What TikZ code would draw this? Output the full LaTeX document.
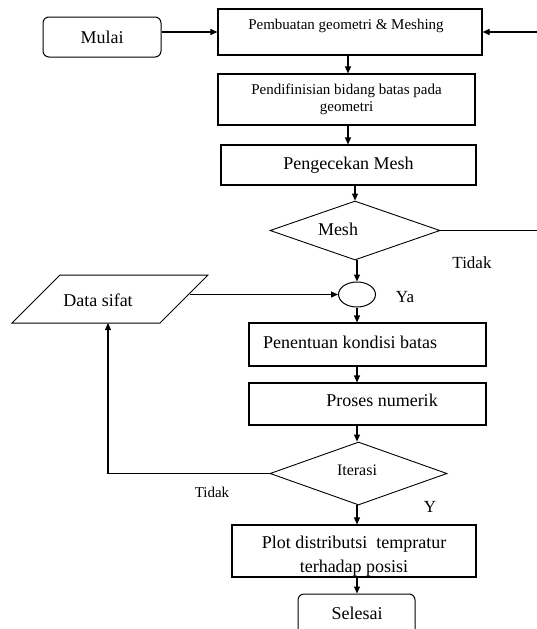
\documentclass[tikz,border=0pt]{standalone}
\usepackage{fontspec}
\setmainfont{Liberation Serif}
\usetikzlibrary{shapes.geometric,arrows.meta}
\begin{document}
\begin{tikzpicture}[x=1pt,y=-1pt,
  box/.style={draw,line width=1.1pt,rectangle,inner sep=0pt},
  term/.style={draw,line width=1pt,rounded corners=6pt,inner sep=0pt},
  dec/.style={draw,line width=0.9pt,diamond,inner sep=0pt},
  txt/.style={inner sep=0pt,font=\fontsize{18}{22}\selectfont},
  smalltxt/.style={inner sep=0pt,font=\fontsize{15}{17}\selectfont},
  arr/.style={line width=1.1pt,-{Triangle[length=7pt,width=6pt]}},
  ln/.style={line width=1.1pt}]
\useasboundingbox (0,0) rectangle (537,629);
\clip (0,0) rectangle (537,629);
% columns
\coordinate (colA) at (348,0);
\coordinate (colB) at (357,0);
% nodes
\node[term,minimum width=118pt,minimum height=40pt,txt] (mulai) at (102,37) {Mulai};
\node[box,minimum width=264pt,minimum height=46pt] (pemb) at (350,32) {};
\node[smalltxt] (pembt) at (346,26) {Pembuatan geometri \& Meshing};
\node[box,minimum width=257pt,minimum height=51pt,smalltxt,align=center] (pend) at (346.5,99.5) {Pendifinisian bidang batas pada\\geometri};
\node[box,minimum width=255pt,minimum height=40pt,txt] (peng) at (348.5,165) {Pengecekan Mesh};
\node[dec,minimum width=170pt,minimum height=59pt] (mesh) at (355,230.5) {};
\node[txt] (mesht) at (338,229) {Mesh};
\node[draw,ellipse,line width=1pt,minimum width=37pt,minimum height=25pt,inner sep=0pt] (circ) at (357,294.5) {};
\draw[line width=1pt] (60,275) -- (208,275) -- (160,323) -- (12,323) -- cycle;
\node[txt] (data) at (98,300) {Data sifat};
\coordinate (dataR) at (189.5,294.5);
\coordinate (dataB) at (108,323);
\node[box,minimum width=237pt,minimum height=43pt] (pent) at (367.5,344.5) {};
\node[txt] (pentt) at (350,342) {Penentuan kondisi batas};
\node[box,minimum width=237pt,minimum height=42pt] (proc) at (367.5,404) {};
\node[txt] (proct) at (382,400) {Proses numerik};
\node[dec,minimum width=177pt,minimum height=63pt] (iter) at (358.5,473.5) {};
\node[inner sep=0pt,font=\fontsize{16}{18}\selectfont] (itert) at (357,470) {Iterasi};
\node[box,minimum width=244pt,minimum height=52pt] (plot) at (354,551) {};
\node[txt,align=center,font=\fontsize{18}{24}\selectfont] (plott) at (354,556) {Plot distributsi\ \ tempratur\\terhadap posisi};
\node[term,minimum width=117pt,minimum height=46pt] (sel) at (356.5,617) {};
\node[txt] (selt) at (357,613) {Selesai};
% labels
\node[inner sep=0pt,font=\fontsize{17}{20}\selectfont] (tidak1) at (472,263) {Tidak};
\node[inner sep=0pt,font=\fontsize{17}{20}\selectfont] (ya) at (405,297) {Ya};
\node[inner sep=0pt,font=\fontsize{15}{17}\selectfont] (tidak2) at (212,492) {Tidak};
\node[inner sep=0pt,font=\fontsize{17}{20}\selectfont] (y) at (430,507) {Y};
% connectors
\draw[arr] (mulai.east |- pemb.west) -- (pemb.west);
\draw[arr] (mesh.east) -- (570,230.5) |- (pemb.east);
\draw[arr] (colA |- pemb.south) -- (colA |- pend.north);
\draw[arr] (colA |- pend.south) -- (colA |- peng.north);
\draw[arr] (mesh.north |- peng.south) -- (mesh.north);
\draw[arr] (colB |- mesh.south) -- (circ.north);
\draw[arr] (dataR) -- (circ.west);
\draw[arr] (circ.south) -- (colB |- pent.north);
\draw[arr] (colB |- pent.south) -- (colB |- proc.north);
\draw[arr] (colB |- proc.south) -- (colB |- iter.north);
\draw[arr] (iter.west) -| (dataB);
\draw[arr] (colB |- iter.south) -- (colB |- plot.north);
\draw[arr] (colB |- plot.south) -- (colB |- sel.north);
\end{tikzpicture}
\end{document}
